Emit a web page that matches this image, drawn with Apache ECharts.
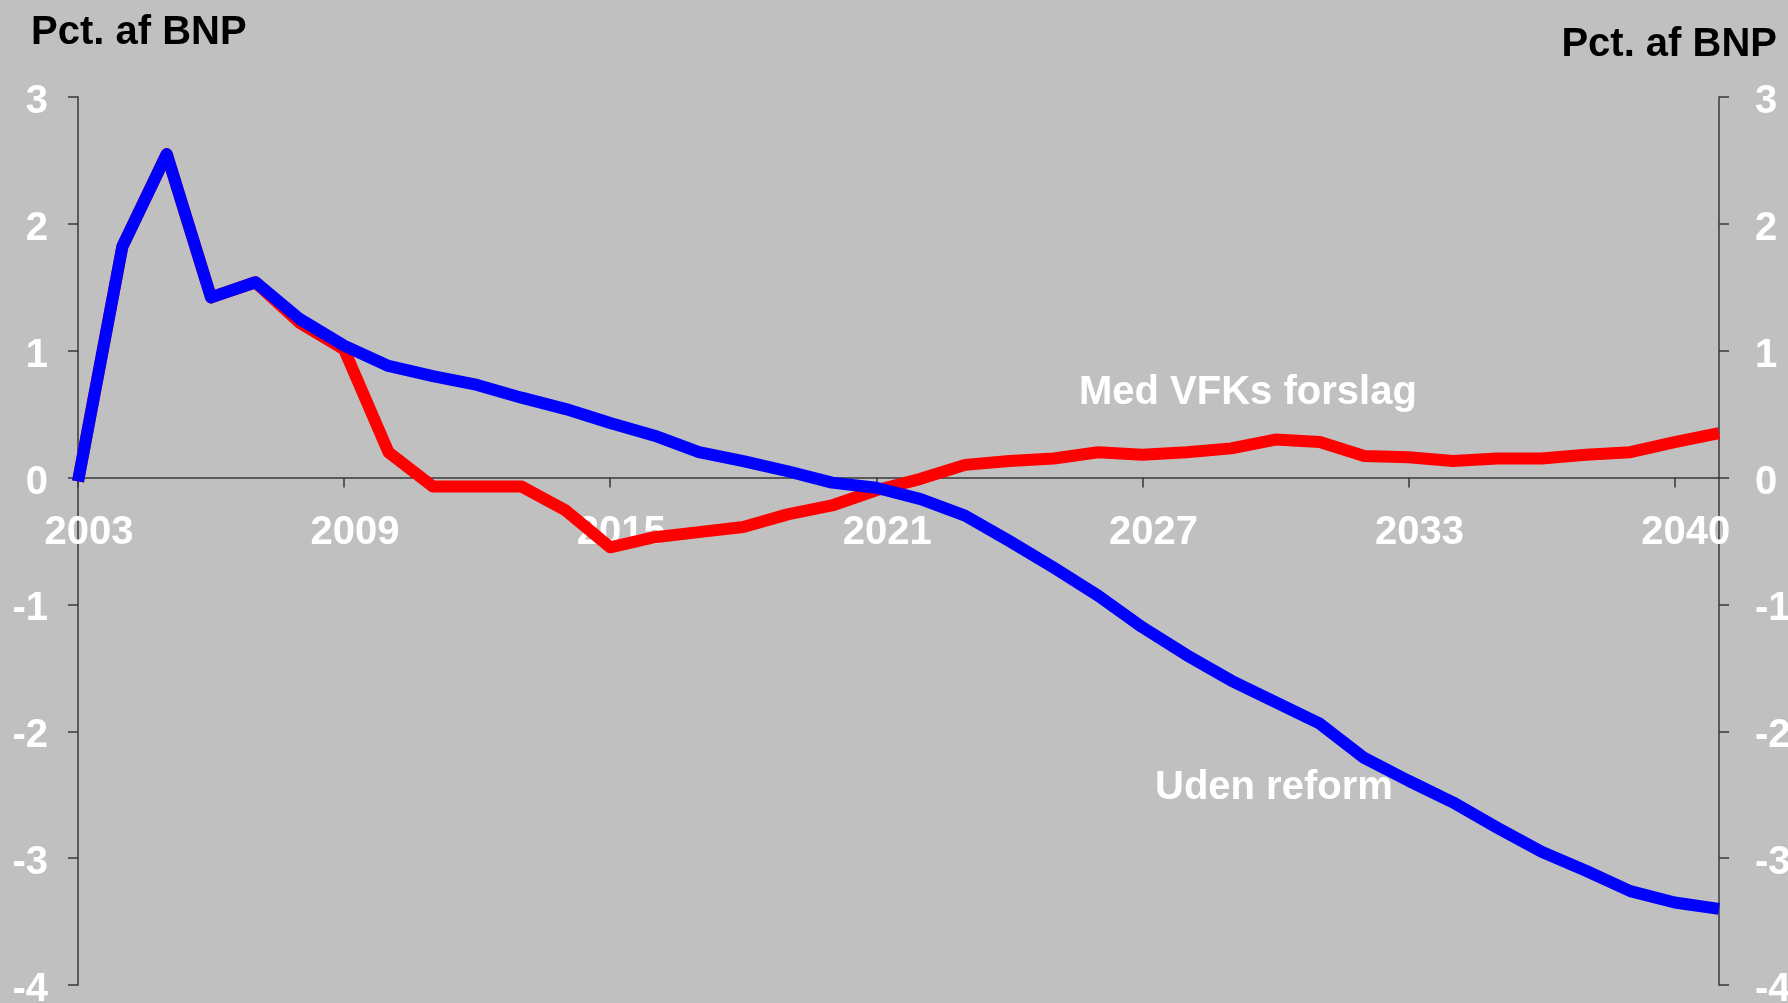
<!DOCTYPE html>
<html>
<head>
<meta charset="utf-8">
<title>Pct. af BNP</title>
<script src="https://cdn.jsdelivr.net/npm/echarts@6/dist/echarts.min.js"></script>
<style>
  html, body { margin: 0; padding: 0; background: #c0c0c0; }
  #main { width: 1788px; height: 1003px; }
</style>
</head>
<body>
<div id="main"></div>
<script>
// aar 2003-2040
var years = [];
for (var y = 2003; y <= 2040; y++) years.push(String(y));

// tekst under x-aksen, en for hver 6. kategori
var tickLabels = ['2003', '2009', '2015', '2021', '2027', '2033', '2040'];

// Med VFKs forslag
var medForslag = [-0.03, 1.82, 2.55, 1.42, 1.54, 1.22, 1.01, 0.20, -0.07, -0.07,
  -0.07, -0.26, -0.55, -0.47, -0.43, -0.39, -0.29, -0.22, -0.10, -0.01,
  0.10, 0.13, 0.15, 0.20, 0.18, 0.20, 0.23, 0.30, 0.28, 0.17,
  0.16, 0.13, 0.15, 0.15, 0.18, 0.20, 0.28, 0.35];

// Uden reform
var udenReform = [-0.03, 1.82, 2.55, 1.42, 1.54, 1.25, 1.04, 0.88, 0.80, 0.73,
  0.63, 0.54, 0.43, 0.33, 0.20, 0.13, 0.05, -0.04, -0.08, -0.17,
  -0.30, -0.50, -0.71, -0.93, -1.18, -1.40, -1.60, -1.77, -1.94, -2.21,
  -2.39, -2.56, -2.76, -2.95, -3.10, -3.26, -3.35, -3.40];

var FONT = 'Liberation Sans, Arial, sans-serif';
var axisColor = '#383838';
var yMin = -4, yMax = 3;
var gridTop = 97, gridBottom = 18, H = 1003;

var chart = echarts.init(document.getElementById('main'));

//x-aksen ligger ved 0, flyt den op fra bunden af plottet
var plotH = H - gridTop - gridBottom;
var zeroOffset = -plotH * (0 - yMin) / (yMax - yMin);

//y-akse, ens i begge sider
var yAxisBase = function(pos, margin){
  return {
    type: 'value'
    ,position: pos
    ,min: yMin
    ,max: yMax
    ,interval: 1
    ,splitLine: {show: false}
    ,axisLine: {show: true, onZero: false, lineStyle: {color: axisColor, width: 1.5}}
    ,axisTick: {show: true, length: 10, lineStyle: {color: axisColor, width: 1.5}}
    ,axisLabel: {
      color: '#ffffff'
      ,fontFamily: FONT
      ,fontWeight: 'bold'
      ,fontSize: 40
      ,margin: margin
      //tallene sidder lidt under stregen
      ,verticalAlign: 'top'
      ,lineHeight: 10
    }
  };
};

chart.setOption({
  animation: false
  ,backgroundColor: '#c0c0c0'
  ,grid: {left: 78, right: 69, top: gridTop, bottom: gridBottom, containLabel: false, outerBoundsMode: 'none'}
  ,title: [
    {
      text: 'Pct. af BNP'
      ,left: 26
      ,top: 8
      ,textStyle: {color: '#000', fontFamily: FONT, fontWeight: 'bold', fontSize: 40}
    }
    ,{
      text: 'Pct. af BNP'
      ,right: 6
      ,top: 20
      ,textStyle: {color: '#000', fontFamily: FONT, fontWeight: 'bold', fontSize: 40}
    }
  ]
  ,xAxis: {
    type: 'category'
    ,data: years
    ,boundaryGap: false
    ,position: 'bottom'
    ,offset: zeroOffset
    ,axisLine: {show: true, onZero: false, lineStyle: {color: axisColor, width: 1.5}}
    ,axisTick: {
      show: true
      ,length: 10
      ,interval: function(i){ return i % 6 === 0; }
      ,lineStyle: {color: axisColor, width: 1.5}
    }
    ,axisLabel: {
      interval: function(i){ return i % 6 === 0; }
      ,formatter: function(v, i){ return tickLabels[i / 6]; }
      ,color: '#ffffff'
      ,fontFamily: FONT
      ,fontWeight: 'bold'
      ,fontSize: 40
      ,margin: 35
      ,padding: [0, 0, 0, 22]
    }
    ,splitLine: {show: false}
  }
  ,yAxis: [yAxisBase('left', 30), yAxisBase('right', 36)]
  ,series: [
    {
      name: 'Med VFKs forslag'
      ,type: 'line'
      ,data: medForslag
      ,symbol: 'none'
      ,lineStyle: {color: '#ff0000', width: 12, join: 'round'}
      ,z: 2
    }
    ,{
      name: 'Uden reform'
      ,type: 'line'
      ,data: udenReform
      ,symbol: 'none'
      ,lineStyle: {color: '#0000ff', width: 12, join: 'round'}
      ,z: 3
    }
  ]
  ,graphic: [
    {
      type: 'text'
      ,x: 1079
      ,y: 393
      ,style: {text: 'Med VFKs forslag', fill: '#ffffff', font: 'bold 40px ' + FONT, textVerticalAlign: 'middle'}
      ,z: 10
    }
    ,{
      type: 'text'
      ,x: 1155
      ,y: 788
      ,style: {text: 'Uden reform', fill: '#ffffff', font: 'bold 40px ' + FONT, textVerticalAlign: 'middle'}
      ,z: 10
    }
  ]
});
</script>
</body>
</html>
